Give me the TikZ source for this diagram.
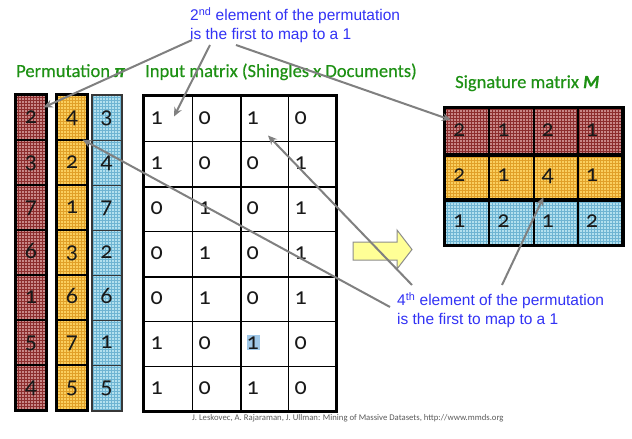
\documentclass[tikz,border=0pt]{standalone}
\usepackage{fontspec}
\setmainfont[Numbers=OldStyle]{Carlito}
\newfontfamily\headf[FakeBold=0.4]{Carlito}
\newfontfamily\arialf{Liberation Sans}
\usetikzlibrary{patterns,calc,arrows.meta}
\definecolor{redbase}{RGB}{200,135,135}
\definecolor{redline}{RGB}{140,45,45}
\definecolor{yelbase}{RGB}{250,207,95}
\definecolor{yelline}{RGB}{225,160,40}
\definecolor{blubase}{RGB}{178,224,238}
\definecolor{bluline}{RGB}{110,180,210}
\definecolor{bluedge}{RGB}{55,55,55}
\definecolor{headgreen}{RGB}{30,145,20}
\definecolor{labblue}{RGB}{50,50,245}
\definecolor{arrgray}{RGB}{128,128,128}
\definecolor{arrowyel}{RGB}{255,255,150}
\definecolor{arrowedge}{RGB}{140,140,140}
\definecolor{digitc}{RGB}{25,25,25}
\definecolor{hlblue}{RGB}{160,200,232}
\definecolor{footgray}{RGB}{90,90,90}
\begin{document}
\begin{tikzpicture}[x=1pt,y=-1pt,
  pcell/.style={rectangle, inner sep=0pt, minimum width=30pt, minimum height=45pt, line width=1.2pt, draw=black},
  redfill/.style={preaction={fill=redbase}, pattern=grid, pattern color=redline},
  yelfill/.style={preaction={fill=yelbase}, pattern=grid, pattern color=yelline},
  blufill/.style={preaction={fill=blubase}, pattern=grid, pattern color=bluline},
  digit/.style={inner sep=0pt, text height=11pt, text depth=0pt, font=\fontsize{24}{24}\selectfont, text=digitc},
  mcell/.style={rectangle, inner sep=0pt, minimum width=48pt, minimum height=45pt, draw=black, line width=1pt},
  scell/.style={rectangle, inner sep=0pt, minimum width=44.25pt, minimum height=45.6pt, draw=black, line width=2pt},
  head/.style={inner sep=0pt, anchor=base west, text=headgreen, font=\headf\fontsize{18.5}{22}\selectfont},
  lab/.style={inner sep=0pt, anchor=north west, align=left, text=labblue, font=\arialf\fontsize{15.5}{19}\selectfont},
  garrow/.style={draw=arrgray, line width=2pt, -{Stealth[length=9pt,width=8pt]}},
]
\useasboundingbox (0,0) rectangle (632,439);
\fill[white] (0,0) rectangle (632,439);

% ---------- permutation columns ----------
\foreach \v [count=\i] in {2,3,7,6,1,5,4} {
  \node[pcell, redfill] (r\i) at (31, {117.5+45*(\i-1)}) {};
  \node[digit] (rd\i) at (r\i) {\v};
}
\foreach \v [count=\i] in {4,2,1,3,6,7,5} {
  \node[pcell, yelfill] (y\i) at (72, {117.5+45*(\i-1)}) {};
  \node[digit] (yd\i) at (y\i) {\v};
}
\foreach \v [count=\i] in {3,4,7,2,6,1,5} {
  \node[pcell, blufill, minimum width=29pt, draw=bluedge, line width=1pt] (b\i) at (106.5, {117.5+45*(\i-1)}) {};
  \node[digit] (bd\i) at (b\i) {\v};
}
\draw[line width=3pt] (r1.north west) rectangle (r7.south east);
\draw[line width=3pt] (y1.north west) rectangle (y7.south east);
\draw[line width=2pt, draw=bluedge] (b1.north west) rectangle (b7.south east);

% ---------- input matrix ----------
\foreach \row [count=\r] in {{1,0,1,0},{1,0,0,1},{0,1,0,1},{0,1,0,1},{0,1,0,1},{1,0,1,0},{1,0,1,0}} {
  \foreach \v [count=\c] in \row {
    \node[mcell] (m\r\c) at ({168+48*(\c-1)}, {118.5+45*(\r-1)}) {};
  }
}
\fill[hlblue] ($(m63.west)+(7,-8.5)$) rectangle ($(m63.west)+(20,6.5)$);
\foreach \row [count=\r] in {{1,0,1,0},{1,0,0,1},{0,1,0,1},{0,1,0,1},{0,1,0,1},{1,0,1,0},{1,0,1,0}} {
  \foreach \v [count=\c] in \row {
    \node[digit, anchor=west] (md\r\c) at ($(m\r\c.west)+(7,0)$) {\v};
  }
}
\draw[line width=2pt] (m12.north east) -- (m72.south east);
\draw[line width=2pt] (m21.south west) -- (m24.south east);
\draw[line width=2pt] (m41.south west) -- (m44.south east);
\draw[line width=2.5pt] (m11.north west) rectangle (m74.south east);

% ---------- signature matrix ----------
\foreach \v [count=\c] in {2,1,2,1} {
  \node[scell, redfill] (s1\c) at ({467.125+44.25*(\c-1)}, 130.8) {};
  \node[digit, anchor=west] (sd1\c) at ($(s1\c.west)+(9,0)$) {\v};
}
\foreach \v [count=\c] in {2,1,4,1} {
  \node[scell, yelfill] (s2\c) at ({467.125+44.25*(\c-1)}, 176.4) {};
  \node[digit, anchor=west] (sd2\c) at ($(s2\c.west)+(9,0)$) {\v};
}
\foreach \v [count=\c] in {1,2,1,2} {
  \node[scell, blufill] (s3\c) at ({467.125+44.25*(\c-1)}, 222.0) {};
  \node[digit, anchor=west] (sd3\c) at ($(s3\c.west)+(9,0)$) {\v};
}
\draw[line width=4pt] (s11.south west) -- (s14.south east);
\draw[line width=4pt] (s21.south west) -- (s24.south east);
\draw[line width=3pt] (s11.north west) rectangle (s34.south east);

% ---------- big yellow arrow ----------
\draw[draw=arrowedge, fill=arrowyel, line width=1pt]
  (353,242) -- (397,242) -- (397,230) -- (412,249.5) -- (397,269) -- (397,260) -- (353,260) -- cycle;

% ---------- headings ----------
\node[head] (hperm) at (16,77) {Permutation \textbf{\textit{π}}};
\node[head] (hin) at (145,77) {Input matrix (Shingles x Documents)};
\node[head] (hsig) at (455,88) {Signature matrix \textbf{\textit{M}}};

% ---------- blue labels ----------
\node[lab] (lab2) at (190,7) {2\textsuperscript{nd} element of the permutation\\is the first to map to a 1};
\node[lab] (lab4) at (397,292) {4\textsuperscript{th} element of the permutation\\is the first to map to a 1};

% ---------- footer ----------
\node[inner sep=0pt, anchor=base west, text=footgray, font=\fontsize{8.7}{10}\selectfont] (foot) at (192,420)
  {J. Leskovec, A. Rajaraman, J. Ullman: Mining of Massive Datasets, http://www.mmds.org};

% ---------- gray arrows ----------
\draw[garrow] ($(lab2.north west)+(2,33)$) -- ($(r1.north east)+(-3,13)$);
\draw[garrow] ($(lab2.north west)+(20,38)$) -- ($(m11.center)+(6,-2)$);
\draw[garrow] ($(lab2.north west)+(46,38)$) -- ($(s11.north west)+(7,13)$);
\draw[garrow] ($(lab4.north west)+(-7,15)$) -- ($(y1.south east)+(-5,-1)$);
\draw[garrow] ($(lab4.north west)+(15,-7)$) -- ($(m13.center)+(4,17)$);
\draw[garrow] ($(lab4.north west)+(105,-7)$) -- ($(s23.south west)+(11,-3)$);
\end{tikzpicture}
\end{document}
